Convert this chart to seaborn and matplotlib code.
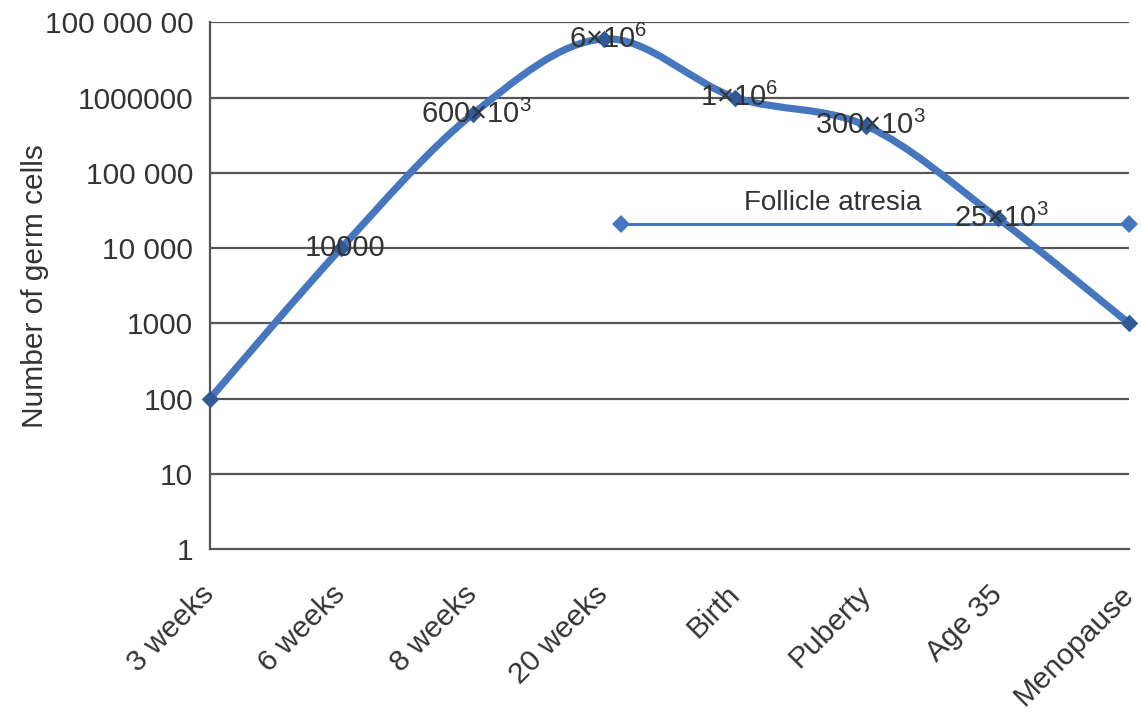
import numpy as np
import pandas as pd
import matplotlib
matplotlib.use("Agg")
import matplotlib.pyplot as plt
import seaborn as sns
from matplotlib.path import Path
from matplotlib.patches import PathPatch
import matplotlib.transforms as mtrans

# ---------------- data ----------------
stages = ["3 weeks", "6 weeks", "8 weeks", "20 weeks", "Birth", "Puberty", "Age 35", "Menopause"]
germ_cells = [100, 10000, 600000, 6000000, 1000000, 420000, 25000, 1000]
point_labels = ["", "10000", "600×10$^3$", "6×10$^6$", "1×10$^6$", "300×10$^3$", "25×10$^3$", ""]

atresia_stage_pos = [3.13, 7.0]
atresia_level = [21000, 21000]
atresia_text = "Follicle atresia"
atresia_text_pos = (4.74, 40000)

ytick_values = [1, 10, 100, 1000, 10000, 100000, 1000000, 10000000]
ytick_labels = ["1", "10", "100", "1000", "10 000", "100 000", "1000000", "100 000 00"]
y_label = "Number of germ cells"

# ---------------- style ----------------
sns.set_theme(style="white")
plt.rcParams["font.family"] = ["Liberation Sans", "DejaVu Sans"]
plt.rcParams["mathtext.fontset"] = "custom"
plt.rcParams["mathtext.rm"] = "Liberation Sans"
plt.rcParams["mathtext.it"] = "Liberation Sans"

line_color = "#4677BE"
marker_color = "#2F5A96"
grid_color = "#555555"
text_color = "#333333"

fig = plt.figure(figsize=(11.41, 7.17), dpi=100)
ax = fig.add_axes([0.184, 0.234, 0.8055, 0.735])

df = pd.DataFrame({"pos": np.arange(len(stages)), "cells": germ_cells, "stage": stages})

ax.set_yscale("log")
ax.set_xlim(0, len(stages) - 1)
ax.set_ylim(1, 1e7)

# horizontal gridlines
for v in ytick_values[1:]:
    ax.axhline(v, color=grid_color, lw=1.6, zorder=1)

# smooth (Catmull-Rom -> cubic Bezier) curve through the data points in log space
px = df["pos"].to_numpy(dtype=float)
py = np.log10(df["cells"].to_numpy(dtype=float))
P = np.column_stack([px, py])
ext = np.vstack([P[0], P, P[-1]])
verts = [P[0]]
codes = [Path.MOVETO]
for i in range(len(P) - 1):
    p_prev, p0, p1, p_next = ext[i], ext[i + 1], ext[i + 2], ext[i + 3]
    c1 = p0 + (p1 - p_prev) / 6.0
    c2 = p1 - (p_next - p0) / 6.0
    verts += [c1, c2, p1]
    codes += [Path.CURVE4] * 3
verts = np.array(verts)
verts[:, 1] = 10 ** verts[:, 1]
curve = PathPatch(Path(verts, codes), facecolor="none", edgecolor=line_color,
                  lw=5.2, zorder=3, capstyle="round", joinstyle="round", clip_on=False)
ax.add_patch(curve)

sns.scatterplot(data=df, x="pos", y="cells", marker="D", s=80, color=marker_color,
                edgecolor=marker_color, linewidth=0, zorder=4, ax=ax, clip_on=False)

# follicle atresia line
atr = pd.DataFrame({"pos": atresia_stage_pos, "cells": atresia_level})
sns.lineplot(data=atr, x="pos", y="cells", color=line_color, lw=2.2, marker="D",
             markersize=9, markeredgewidth=0, zorder=3, ax=ax, clip_on=False)
ax.text(atresia_text_pos[0], atresia_text_pos[1], atresia_text, ha="center", va="center",
        fontsize=20, color=text_color, zorder=6)

# data labels
for i, lab in enumerate(point_labels):
    if lab:
        ax.text(i + 0.03, germ_cells[i], lab, ha="center", va="center", fontsize=21,
                color=text_color, zorder=6)

# axes styling
for s in ["top", "right"]:
    ax.spines[s].set_visible(False)
for s in ["left", "bottom"]:
    ax.spines[s].set_color(grid_color)
    ax.spines[s].set_linewidth(1.6)

ax.set_yticks(ytick_values)
ax.set_yticklabels(ytick_labels)
ax.yaxis.set_minor_locator(matplotlib.ticker.NullLocator())
ax.tick_params(axis="y", length=0, pad=12, labelsize=21.5, labelcolor=text_color)

ax.set_xticks(np.arange(len(stages)))
ax.set_xticks(np.arange(0.5, len(stages) - 1, 1.0), minor=True)
ax.set_xticklabels(stages)
ax.tick_params(axis="x", which="major", direction="inout", length=17, width=1.5,
               color=grid_color, pad=21, labelsize=21.5, labelcolor=text_color)
ax.tick_params(axis="x", which="minor", direction="in", length=7, width=1.5, color=grid_color)
offset = mtrans.ScaledTranslation(0, 0, fig.dpi_scale_trans)
for lbl in ax.get_xticklabels():
    lbl.set_rotation(45)
    lbl.set_ha("right")
    lbl.set_va("center")
    lbl.set_rotation_mode("anchor")
    lbl.set_transform(lbl.get_transform() + offset)

ax.set_xlabel("")
ax.set_ylabel(y_label, fontsize=21.5, color=text_color, labelpad=-3)
ax.grid(False)

fig.savefig("out.png", dpi=100)
